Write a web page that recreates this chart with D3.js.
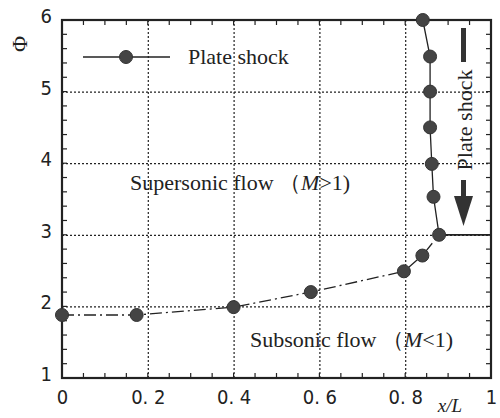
<!DOCTYPE html>
<html>
<head>
<meta charset="utf-8">
<script src="https://cdn.jsdelivr.net/npm/d3@7"></script>
<style>
  body { margin: 0; background: #fff; }
  svg { display: block; }
  .tick text { font-family: "Liberation Sans Narrow", "DejaVu Sans Condensed", "Liberation Sans", sans-serif; font-size: 20px; fill: #222; }
  text.serif { font-family: "Liberation Serif", "Times New Roman", "DejaVu Serif", serif; fill: #222; }
  .grid line { stroke: #222; stroke-width: 1.2; stroke-dasharray: 2 2; }
  .grid path { stroke-width: 0; }
</style>
</head>
<body>
<svg id="chart"></svg>
<script>
// subsonic branch (dash-dot)
const subX = [0, 0.174, 0.40, 0.58, 0.797, 0.84, 0.879];
const subY = [1.88, 1.88, 1.99, 2.2, 2.49, 2.71, 3.0];
// supersonic branch (solid)
const supX = [0.841, 0.858, 0.858, 0.858, 0.862, 0.866, 0.879];
const supY = [6.0, 5.49, 5.0, 4.5, 3.99, 3.53, 3.0];
// plate shock line
const shockX = [0.879, 1.0];
const shockY = [3.0, 3.0];

const xTicks = [0, 0.2, 0.4, 0.6, 0.8, 1];
const xTickLabels = ["0", "0. 2", "0. 4", "0. 6", "0. 8", "1"];
const yTicks = [1, 2, 3, 4, 5, 6];

const W = 500, H = 418;
const margin = { left: 62, right: 9, top: 20, bottom: 40 };
const width = W - margin.left - margin.right;
const height = H - margin.top - margin.bottom;
const serif = '"Liberation Serif", "Times New Roman", serif';

const svg = d3.select("#chart").attr("width", W).attr("height", H);
const g = svg.append("g").attr("transform", `translate(${margin.left},${margin.top})`);

const x = d3.scaleLinear().domain([0, 1]).range([0, width]);
const y = d3.scaleLinear().domain([1, 6]).range([height, 0]);

// dotted grid
g.append("g").attr("class", "grid")
  .attr("transform", `translate(0,${height})`)
  .call(d3.axisBottom(x).tickValues([0.2, 0.4, 0.6, 0.8]).tickSize(-height).tickFormat(""));
g.append("g").attr("class", "grid")
  .call(d3.axisLeft(y).tickValues([2, 3, 4, 5]).tickSize(-width).tickFormat(""));

// minor ticks on all four sides, pointing inward
const xMinor = d3.range(0, 1.0001, 0.05);
const yMinor = d3.range(1, 6.0001, 0.2);
const tk = 5;
g.selectAll(".mxb").data(xMinor).join("line")
  .attr("x1", d => x(d)).attr("x2", d => x(d))
  .attr("y1", height).attr("y2", height - tk).attr("stroke", "#222").attr("stroke-width", 1.2);
g.selectAll(".mxt").data(xMinor).join("line")
  .attr("x1", d => x(d)).attr("x2", d => x(d))
  .attr("y1", 0).attr("y2", tk).attr("stroke", "#222").attr("stroke-width", 1.2);
g.selectAll(".myl").data(yMinor).join("line")
  .attr("y1", d => y(d)).attr("y2", d => y(d))
  .attr("x1", 0).attr("x2", tk).attr("stroke", "#222").attr("stroke-width", 1.2);
g.selectAll(".myr").data(yMinor).join("line")
  .attr("y1", d => y(d)).attr("y2", d => y(d))
  .attr("x1", width).attr("x2", width - tk).attr("stroke", "#222").attr("stroke-width", 1.2);

// frame
g.append("rect").attr("width", width).attr("height", height)
  .attr("fill", "none").attr("stroke", "#222").attr("stroke-width", 2.2);

// tick labels
const xAxis = g.append("g").attr("transform", `translate(0,${height})`)
  .call(d3.axisBottom(x).tickValues(xTicks).tickSize(0).tickPadding(12)
    .tickFormat((d, i) => xTickLabels[i]));
xAxis.select(".domain").remove();
const yAxis = g.append("g")
  .call(d3.axisLeft(y).tickValues(yTicks).tickSize(0).tickPadding(10).tickFormat(d3.format("d")));
yAxis.select(".domain").remove();
yAxis.selectAll("text").attr("dy", "0.12em");

// axis titles
svg.append("text").attr("class", "serif")
  .attr("x", 450).attr("y", 412).attr("text-anchor", "middle")
  .style("font-family", serif).style("font-size", "19px").style("font-style", "italic").text("x/L");
svg.append("text").attr("class", "serif")
  .attr("transform", "translate(19,44) rotate(-90)")
  .attr("text-anchor", "middle").attr("dominant-baseline", "central")
  .style("font-family", serif).style("font-size", "22px").text("Φ");

// lines
const line = d3.line().x(d => x(d[0])).y(d => y(d[1]));
const subData = d3.zip(subX, subY);
const supData = d3.zip(supX, supY);
const shockData = d3.zip(shockX, shockY);

g.append("path").datum(subData).attr("d", line)
  .attr("fill", "none").attr("stroke", "#222").attr("stroke-width", 1.3)
  .attr("stroke-dasharray", "12 4 2 4");
g.append("path").datum(supData).attr("d", line)
  .attr("fill", "none").attr("stroke", "#222").attr("stroke-width", 1.3);
g.append("path").datum(shockData).attr("d", line)
  .attr("fill", "none").attr("stroke", "#222").attr("stroke-width", 1.8);

// markers
const markerR = 6.5;
g.selectAll(".pt").data(subData.concat(supData.slice(0, -1))).join("circle")
  .attr("cx", d => x(d[0])).attr("cy", d => y(d[1])).attr("r", markerR)
  .attr("fill", "#444").attr("stroke", "#333").attr("stroke-width", 1);

// legend
svg.append("line").attr("x1", 83).attr("x2", 170).attr("y1", 57).attr("y2", 57)
  .attr("stroke", "#222").attr("stroke-width", 1.3);
svg.append("circle").attr("cx", 126).attr("cy", 57).attr("r", markerR)
  .attr("fill", "#444").attr("stroke", "#333");
svg.append("text").attr("class", "serif").attr("x", 188).attr("y", 64)
  .style("font-family", serif).style("font-size", "22px").text("Plate shock");

// region annotations
const sup = svg.append("text").attr("class", "serif").attr("x", 130).attr("y", 190)
  .style("font-family", serif).style("font-size", "22px");
sup.append("tspan").text("Supersonic flow （");
sup.append("tspan").style("font-style", "italic").text("M");
sup.append("tspan").text(">1)");

const subT = svg.append("text").attr("class", "serif").attr("x", 250).attr("y", 347)
  .style("font-family", serif).style("font-size", "22px");
subT.append("tspan").text("Subsonic flow （");
subT.append("tspan").style("font-style", "italic").text("M");
subT.append("tspan").text("<1)");

// rotated plate shock marker with arrow
svg.append("text").attr("class", "serif")
  .attr("transform", "translate(464,120) rotate(-90)")
  .attr("text-anchor", "middle").attr("dominant-baseline", "central")
  .style("font-family", serif).style("font-size", "22px").text("Plate shock");
svg.append("rect").attr("x", 461).attr("y", 28).attr("width", 5).attr("height", 34).attr("fill", "#333");
svg.append("rect").attr("x", 461).attr("y", 180).attr("width", 5).attr("height", 20).attr("fill", "#333");
svg.append("path").attr("d", "M454,196 L473,196 L463.5,226 Z").attr("fill", "#333");
</script>
</body>
</html>
